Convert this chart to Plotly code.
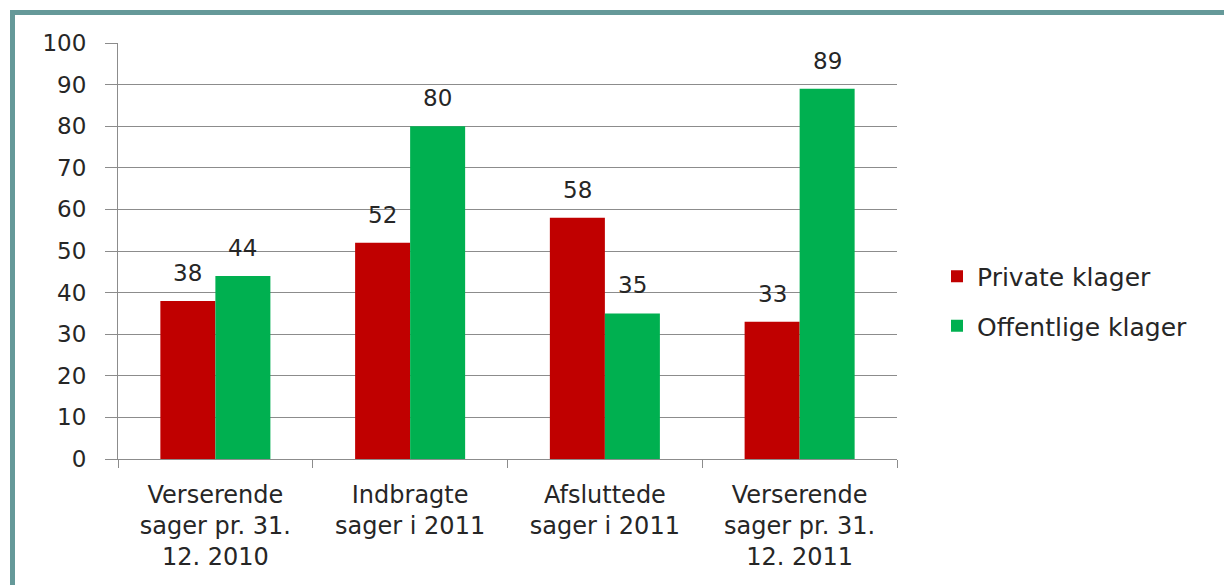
import plotly.graph_objects as go

categories = ["Verserende<br>sager pr. 31.<br>12. 2010", "Indbragte<br>sager i 2011",
              "Afsluttede<br>sager i 2011", "Verserende<br>sager pr. 31.<br>12. 2011"]
private_vals = [38, 52, 58, 33]
public_vals = [44, 80, 35, 89]
series_names = ["Private klager", "Offentlige klager"]
colors = ["#C00000", "#00B050"]

FONT = "DejaVu Sans"
TXT = "#262626"
OFF = 8  # page body margin

fig = go.Figure()
for i, (name, vals) in enumerate(zip(series_names, [private_vals, public_vals])):
    fig.add_trace(go.Bar(x=categories, y=vals, name=name, marker_color=colors[i],
                         marker_line_width=0, legendgroup=name))

W, H = 1232 - OFF, 585 - OFF
L, T = 118 - OFF, 43 - OFF
R = W - (897 - OFF)
B = H - (459 - OFF)
pw, ph = W - L - R, H - T - B
y0px = 459 - OFF

annotations = []
for vals, shift in [(private_vals, -27.5), (public_vals, 27.5)]:
    for c, v in zip(categories, vals):
        annotations.append(dict(x=c, y=v, text=str(v), showarrow=False, xshift=shift,
                                yanchor="bottom", yshift=13,
                                font=dict(family=FONT, size=23, color=TXT)))

fig.update_layout(
    width=W, height=H,
    margin=dict(l=L, r=R, t=T, b=B),
    paper_bgcolor="white", plot_bgcolor="white",
    barmode="group", bargap=0.435, bargroupgap=0,
    font=dict(family=FONT, size=23, color=TXT),
    showlegend=True,
    legend=dict(x=(937 - OFF - L) / pw, y=(y0px - (301 - OFF)) / ph, xanchor="left", yanchor="middle",
                font=dict(family=FONT, size=25, color=TXT), traceorder="grouped",
                tracegroupgap=14, bgcolor="rgba(0,0,0,0)", itemwidth=30),
    annotations=annotations,
    xaxis=dict(showline=True, linecolor="#8c8c8c", linewidth=1, ticks="outside",
               tickson="boundaries", ticklen=8, tickcolor="#8c8c8c", ticklabelstandoff=14,
               tickfont=dict(family=FONT, size=24, color=TXT), showgrid=False),
    yaxis=dict(range=[0, 100], dtick=10, showline=True, linecolor="#8c8c8c", linewidth=1,
               ticks="outside", ticklen=12, tickcolor="#8c8c8c", showgrid=True,
               gridcolor="#8c8c8c", gridwidth=1, zeroline=False, ticklabelstandoff=14,
               tickfont=dict(family=FONT, size=23, color=TXT)),
    shapes=[dict(type="rect", xref="paper", yref="paper",
                 x0=(12.5 - OFF - L) / pw, x1=(W + 20 - L) / pw,
                 y0=(y0px - (H + 20)) / ph, y1=(y0px - (12.5 - OFF)) / ph,
                 line=dict(color="#659999", width=5), fillcolor="rgba(0,0,0,0)", layer="below")],
)

fig.write_html("out.html")
